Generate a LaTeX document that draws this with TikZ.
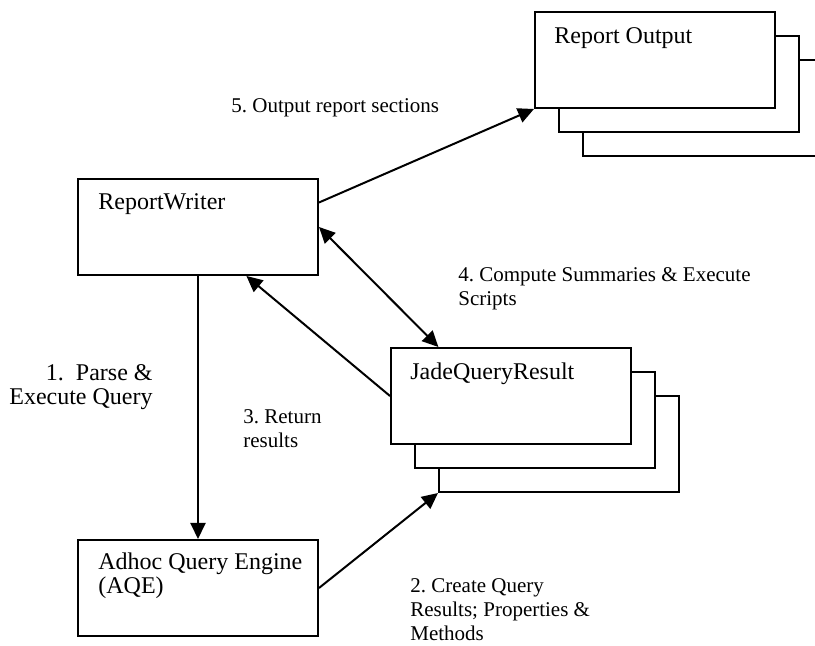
\documentclass[tikz,border=0pt]{standalone}
\usepackage{fontspec}
\setmainfont{Liberation Serif}
\usetikzlibrary{arrows.meta,calc,shadows}

\tikzset{
	box/.style={draw,line width=1pt,fill=white,minimum width=120pt,minimum height=48pt,inner sep=0pt,anchor=north west},
	stacked/.style={general shadow={shadow xshift=24pt,shadow yshift=-24pt,draw,line width=1pt,fill=white},
		general shadow={shadow xshift=12pt,shadow yshift=-12pt,draw,line width=1pt,fill=white}},
	txt/.style={inner sep=0pt,anchor=base west,align=left},
	steptxt/.style={txt,font=\fontsize{10.5}{12.25}\selectfont},
	link/.style={line width=1pt,-{Triangle[length=8pt,width=7.5pt]}},
}

\begin{document}
\frenchspacing
\begin{tikzpicture}[x=0.5pt,y=-0.5pt,font=\fontsize{12}{12.25}\selectfont]
		\useasboundingbox (0,0) rectangle (815,646);
		% boxes
		\node[box] (rw) at (77,178) {};
		\node[box] (aqe) at (77,539) {};
		\node[box,stacked] (jqr) at (390,347) {};
		\node[box,stacked] (ro) at (534,11) {};
		\node[txt] (rw-name) at ([shift={(21,32)}]rw.north west) {ReportWriter};
		\node[txt] (aqe-name) at ([shift={(21,55)}]aqe.north west) {Adhoc Query Engine\\(AQE)};
		\node[txt] (jqr-name) at ([shift={(20,33)}]jqr.north west) {JadeQueryResult};
		\node[txt] (ro-name) at ([shift={(20,33)}]ro.north west) {Report Output};
		\coordinate (jqr-back) at ([shift={(48,48)}]jqr.south west);
		% steps
		\draw[link] (rw.south) -- (aqe.north);
		\draw[link] (aqe.east) -- (jqr-back);
		\draw[link] (jqr.west) -- ($(rw.south west)!0.7!(rw.south east)$);
		\draw[link,{Triangle[length=8pt,width=7.5pt]}-{Triangle[length=8pt,width=7.5pt]}] (rw.east) -- ($(jqr.north west)!0.2!(jqr.north east)$);
		\draw[link] ($(rw.north east)!0.25!(rw.south east)$) -- (ro.south west);
		\node[txt,anchor=base east,align=right] (step1) at (153,405) {1.\ \ Parse \&\\Execute Query};
		\node[steptxt] (step2) at (410,641) {2. Create Query\\Results; Properties \&\\Methods};
		\node[steptxt] (step3) at (243,448) {3. Return\\results};
		\node[steptxt] (step4) at (458,306) {4. Compute Summaries \& Execute\\Scripts};
		\node[steptxt] (step5) at (231,113) {5. Output report sections};
\end{tikzpicture}
\end{document}
